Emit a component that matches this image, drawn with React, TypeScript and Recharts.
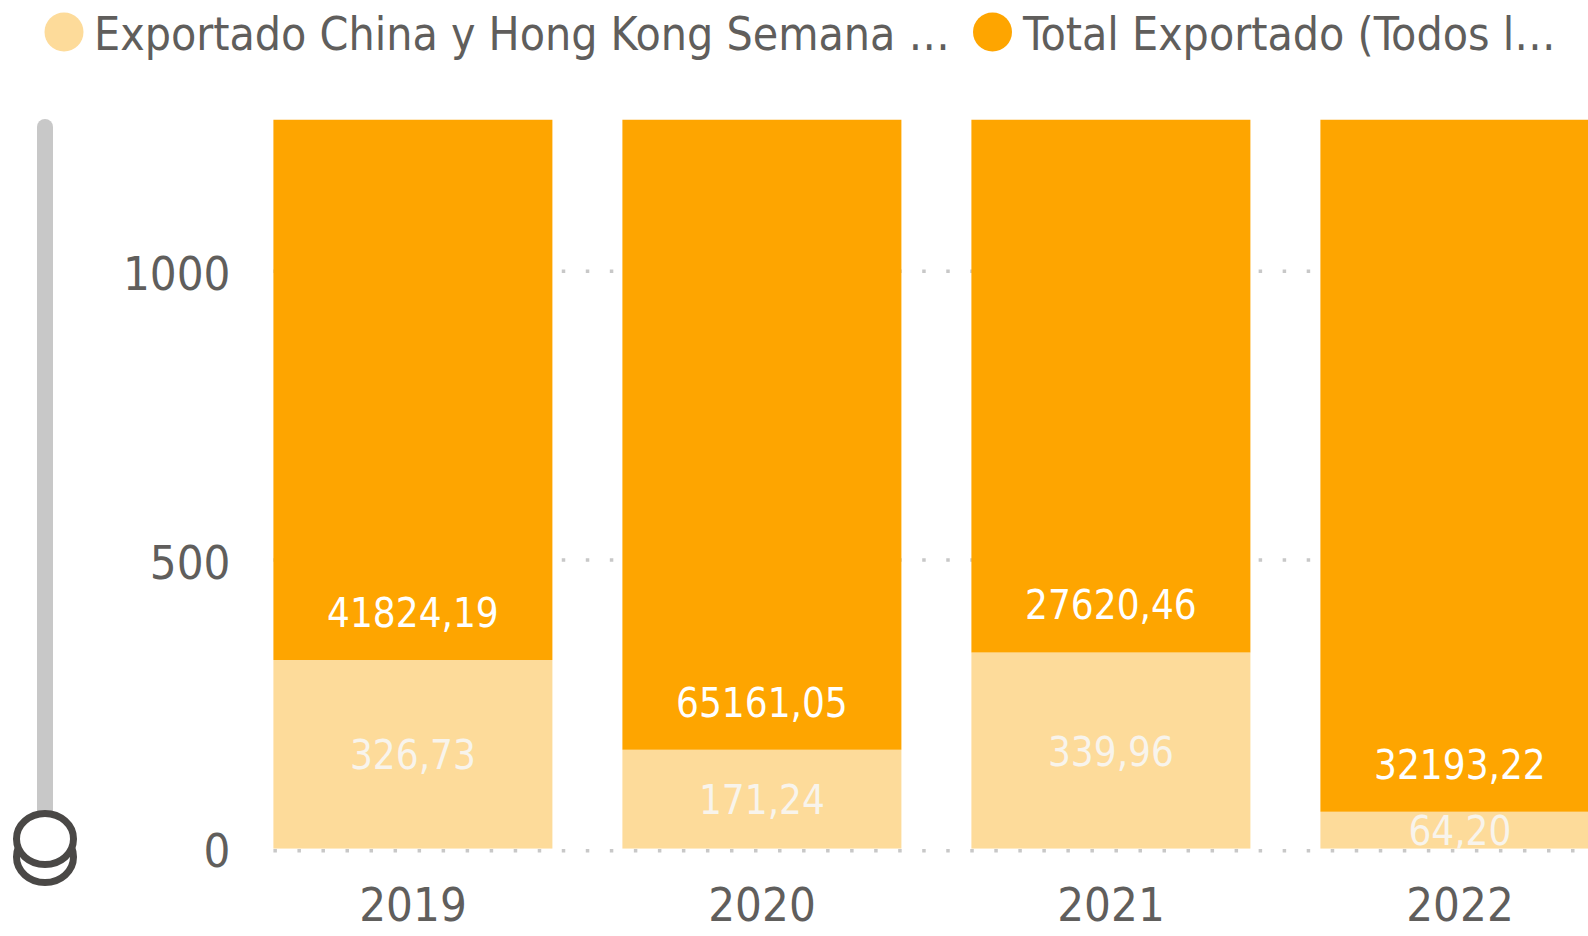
import React from 'react';
import { BarChart, Bar, XAxis, YAxis, CartesianGrid, LabelList } from 'recharts';

const years = ['2019', '2020', '2021', '2022'];
const chinaHK = [326.73, 171.24, 339.96, 64.2];
const totalExport = [41824.19, 65161.05, 27620.46, 32193.22];
const yTicks = [0, 500, 1000];
const legendNames = ['Exportado China y Hong Kong Semana …', 'Total Exportado (Todos l…'];

const LIGHT = '#FDDB9A';
const ORANGE = '#FEA500';
const TEXT = '#605E5C';
const FONT = '"DejaVu Sans Condensed", "DejaVu Sans", sans-serif';

const data = years.map((year, i) => ({ year, china: chinaHK[i], total: totalExport[i] }));

const fmt = (v: number) => v.toFixed(2).replace('.', ',');

// label sits near the base of the orange segment (the segment runs off the top)
const BaseLabel = (props: any) => {
  const { x, y, width, height, value } = props;
  return (
    <text x={x + width / 2} y={y + height - 47} textAnchor="middle" dominantBaseline="central"
      fill="#FFFFFF" fontSize={40} fontFamily={FONT}>
      {fmt(value)}
    </text>
  );
};

// centred label, clipped to its own segment like the original
const MidLabel = (props: any) => {
  const { x, y, width, height, value, index } = props;
  const id = `mid-clip-${index}`;
  return (
    <g>
      <defs>
        <clipPath id={id}>
          <rect x={x} y={y} width={width} height={height} />
        </clipPath>
      </defs>
      <text x={x + width / 2} y={y + height / 2 + 1} textAnchor="middle" dominantBaseline="central"
        fill="#F8F4EC" fontSize={40} fontFamily={FONT} clipPath={`url(#${id})`}>
        {fmt(value)}
      </text>
    </g>
  );
};

const GridLine = (props: any) => {
  const { x1, x2, y1 } = props;
  if (y1 < 130) return <g />;
  const start = x1 + ((x2 - x1) / years.length) * 0.1;
  const y = y1 > 800 ? y1 + 2 : y1;
  return (
    <line x1={start} x2={x2} y1={y} y2={y} stroke="#C8C8C8" strokeWidth={3.5}
      strokeDasharray="3.5 20.53" />
  );
};

export default function App() {
  return (
    <div style={{ position: 'fixed', left: 0, top: 0, width: 1588, height: 936, overflow: 'hidden', background: '#fff', fontFamily: FONT }}>
      <svg width={1588} height={110} style={{ position: 'absolute', left: 0, top: 0 }}>
        <circle cx={64} cy={32} r={19.5} fill={LIGHT} />
        <text x={94} y={49.5} fontSize={46} fill={TEXT} fontFamily={FONT}>{legendNames[0]}</text>
        <circle cx={992.5} cy={32} r={19.5} fill={ORANGE} />
        <text x={1023} y={49.5} fontSize={46} fill={TEXT} fontFamily={FONT}>{legendNames[1]}</text>
      </svg>
      <svg width={100} height={936} style={{ position: 'absolute', left: 0, top: 0 }}>
        <rect x={37} y={119} width={16} height={711} rx={8} fill="#C8C8C8" />
        <ellipse cx={45} cy={857} rx={28.5} ry={25.5} fill="#fff" stroke="#4A4846" strokeWidth={7} />
        <ellipse cx={45} cy={839} rx={28.5} ry={25.5} fill="#fff" stroke="#4A4846" strokeWidth={7} />
      </svg>
      <div style={{ position: 'absolute', left: 0, top: 0 }}>
        <BarChart width={1640} height={936} data={data} barCategoryGap="10%"
          margin={{ top: 119.5, right: 5.5, bottom: 0, left: 0 }}>
          <CartesianGrid vertical={false} horizontal={GridLine} />
          <XAxis dataKey="year" axisLine={false} tickLine={false} height={87.3} tickMargin={33}
            tick={{ fill: TEXT, fontSize: 47, fontFamily: FONT }} interval={0} />
          <YAxis domain={[0, 1263]} allowDataOverflow ticks={yTicks} axisLine={false} tickLine={false}
            width={238.5} tick={{ fill: TEXT, fontSize: 47, fontFamily: FONT, dy: 2 }} />
          <Bar dataKey="china" stackId="a" fill={LIGHT} isAnimationActive={false}>
            <LabelList dataKey="china" content={MidLabel} />
          </Bar>
          <Bar dataKey="total" stackId="a" fill={ORANGE} isAnimationActive={false}>
            <LabelList dataKey="total" content={BaseLabel} />
          </Bar>
        </BarChart>
      </div>
    </div>
  );
}
